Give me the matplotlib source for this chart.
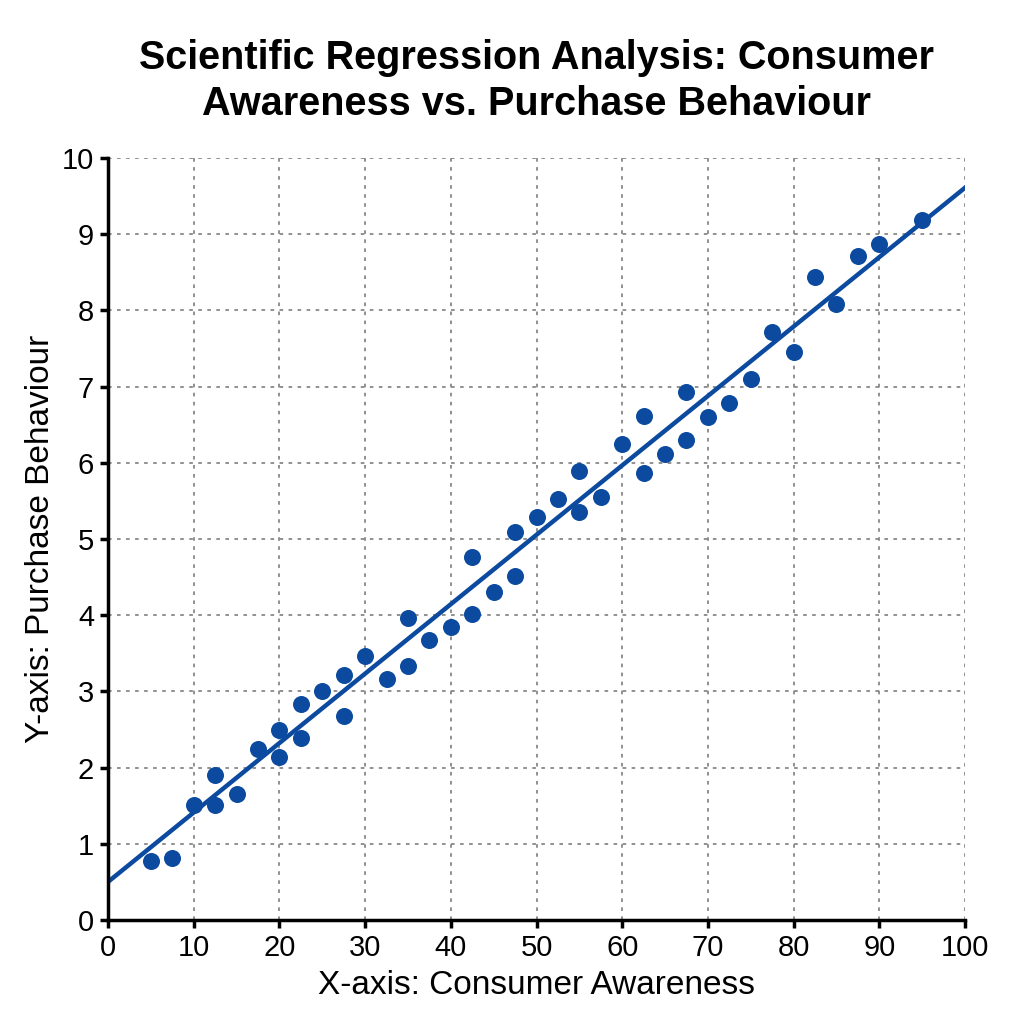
import numpy as np
import matplotlib.pyplot as plt

plt.rcParams['font.family'] = ['Liberation Sans', 'DejaVu Sans']

# data
awareness = [5, 7.5, 10, 12.5, 12.5, 15, 17.5, 20, 20, 22.5, 22.5, 25, 27.5, 27.5,
             30, 32.5, 35, 35, 37.5, 40, 42.5, 42.5, 45, 47.5, 47.5, 50, 52.5,
             55, 55, 57.5, 60, 62.5, 62.5, 65, 67.5, 67.5, 70, 72.5, 75, 77.5,
             80, 82.5, 85, 87.5, 90, 95]
purchase = [0.77, 0.81, 1.51, 1.90, 1.51, 1.65, 2.24, 2.49, 2.14, 2.83, 2.39, 3.01,
            3.22, 2.68, 3.46, 3.16, 3.96, 3.33, 3.67, 3.85, 4.76, 4.02, 4.30, 5.09,
            4.51, 5.29, 5.52, 5.89, 5.35, 5.55, 6.25, 6.61, 5.87, 6.12, 6.93, 6.30,
            6.60, 6.78, 7.10, 7.72, 7.45, 8.44, 8.08, 8.71, 8.87, 9.19]

fit_intercept = 0.50
fit_slope = 0.0911

col = '#0b4a9e'

fig = plt.figure(figsize=(10.24, 10.24), dpi=100)
ax = fig.add_axes([108 / 1024, 1 - 920 / 1024, (965 - 108) / 1024, (920 - 158) / 1024])

ax.scatter(awareness, purchase, s=150, color=col, zorder=3, linewidths=0)
xl = np.array([0, 100])
ax.plot(xl, fit_intercept + fit_slope * xl, color=col, lw=3.2, zorder=2)

ax.set_xlim(0, 100)
ax.set_ylim(0, 10)
ax.set_xticks(np.arange(0, 101, 10))
ax.set_yticks(np.arange(0, 11, 1))
ax.grid(True, linestyle=(0, (2, 3)), color='#888888', lw=1.3)
ax.set_axisbelow(True)

for s in ['top', 'right']:
	ax.spines[s].set_visible(False)
for s in ['left', 'bottom']:
	ax.spines[s].set_linewidth(2.5)
ax.tick_params(labelsize=21, width=2.5, length=6, pad=4)

ax.set_xlabel('X-axis: Consumer Awareness', fontsize=24, labelpad=6)
ax.set_ylabel('Y-axis: Purchase Behaviour', fontsize=24, labelpad=4)
ax.set_title('Scientific Regression Analysis: Consumer\nAwareness vs. Purchase Behaviour',
             fontsize=28.5, fontweight='bold', pad=31, linespacing=1.25)

fig.savefig('out.png', dpi=100)
